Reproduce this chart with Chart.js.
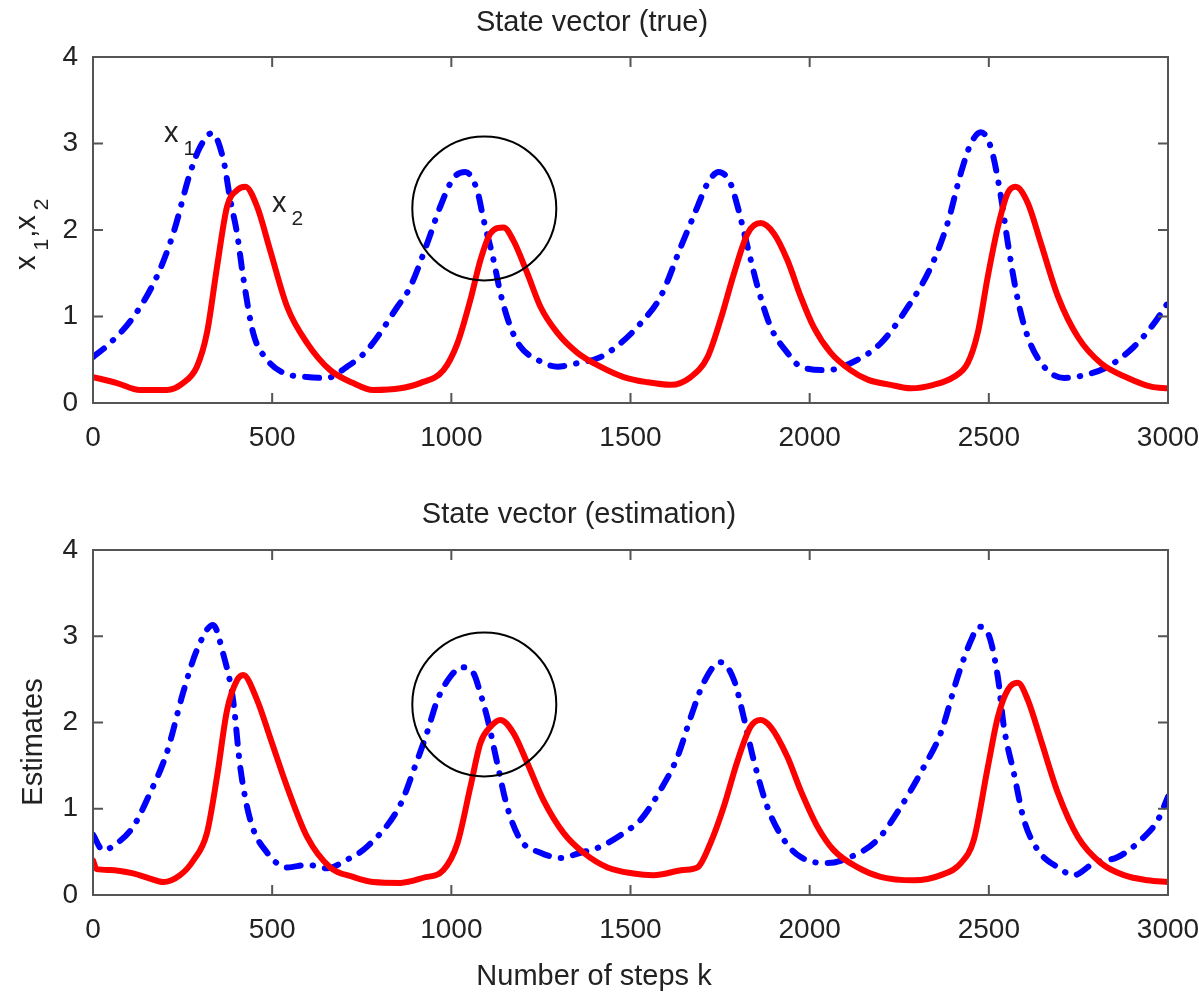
<!DOCTYPE html>
<html lang="en">
<head>
  <meta charset="UTF-8" />
  <title>State vector</title>
  <script src="https://cdn.jsdelivr.net/npm/chart.js"></script>
  <style>
    body { margin: 0; background: #fff; }
    #wrap { position: relative; width: 1199px; height: 994px; }
    canvas { position: absolute; left: 0; }
  </style>
</head>
<body>
<div id="wrap">
  <canvas id="top" width="1199" height="470" style="top:0"></canvas>
  <canvas id="bottom" width="1199" height="524" style="top:470px"></canvas>
</div>
<script>
// x ticks / y ticks
const xTicks = [0, 500, 1000, 1500, 2000, 2500, 3000];
const yTicks = [0, 1, 2, 3, 4];

// top panel: true states
const trueX1Steps = [0,47,112,178,224,271,299,332,364,383,402,419,447,486,531,597,653,709,765,849,885,933,969,1006,1039,1072,1090,1118,1137,1165,1193,1240,1296,1352,1416,1472,1528,1584,1640,1687,1715,1746,1779,1799,1827,1855,1891,1938,1975,2050,2114,2198,2274,2338,2385,2422,2450,2478,2506,2534,2553,2581,2609,2654,2710,2765,2832,2905,2961,3000];
const trueX1 = [0.53,0.69,0.99,1.46,1.96,2.66,2.96,3.12,2.81,2.35,1.96,1.46,0.81,0.50,0.35,0.30,0.29,0.42,0.61,1.11,1.34,1.85,2.27,2.60,2.67,2.46,2.12,1.65,1.27,0.88,0.65,0.50,0.42,0.46,0.53,0.69,0.92,1.23,1.80,2.27,2.54,2.67,2.54,2.27,1.80,1.34,0.88,0.58,0.42,0.38,0.46,0.69,1.11,1.57,2.08,2.66,3.00,3.13,2.95,2.38,1.85,1.19,0.76,0.42,0.29,0.32,0.42,0.65,0.92,1.16];

const trueX2Steps = [0,67,131,206,251,290,318,346,374,402,425,458,494,542,598,662,726,782,858,913,978,1017,1053,1081,1109,1146,1173,1212,1249,1296,1352,1416,1481,1547,1612,1668,1715,1751,1789,1827,1863,1900,1938,1975,2011,2059,2114,2162,2226,2282,2346,2402,2441,2469,2497,2525,2553,2575,2609,2645,2693,2749,2813,2888,2953,3000];
const trueX2 = [0.30,0.23,0.15,0.15,0.23,0.42,0.81,1.57,2.27,2.46,2.50,2.27,1.77,1.11,0.69,0.38,0.23,0.15,0.17,0.23,0.38,0.69,1.19,1.65,1.96,2.03,1.88,1.50,1.11,0.81,0.58,0.42,0.30,0.24,0.21,0.30,0.53,0.96,1.50,1.96,2.08,1.96,1.65,1.23,0.88,0.58,0.38,0.27,0.21,0.17,0.21,0.30,0.46,0.81,1.46,2.03,2.43,2.50,2.31,1.85,1.23,0.76,0.46,0.29,0.19,0.17];

// bottom panel: estimates
const estX1Steps = [0,28,67,112,159,206,251,290,335,363,391,411,439,486,542,598,653,709,765,858,895,932,961,997,1030,1062,1081,1100,1128,1156,1193,1249,1305,1360,1416,1492,1528,1584,1631,1668,1704,1751,1789,1816,1844,1882,1928,1975,2050,2114,2189,2254,2318,2366,2413,2450,2472,2497,2525,2542,2570,2598,2637,2693,2737,2793,2860,2925,2972,3000];
const estX1 = [0.70,0.52,0.60,0.79,1.18,1.65,2.34,2.84,3.13,2.80,2.26,1.48,0.87,0.49,0.32,0.35,0.31,0.41,0.56,1.05,1.45,1.88,2.26,2.53,2.64,2.57,2.34,2.06,1.53,1.02,0.64,0.49,0.43,0.49,0.56,0.75,0.87,1.22,1.60,2.06,2.46,2.70,2.49,2.06,1.56,1.02,0.64,0.44,0.37,0.44,0.64,1.02,1.48,1.88,2.53,2.95,3.11,3.04,2.53,1.95,1.41,0.87,0.52,0.32,0.23,0.37,0.44,0.64,0.87,1.14];

const estX2Steps = [0,10,47,112,159,196,243,280,318,346,374,402,419,458,494,542,598,662,726,782,858,922,978,1017,1053,1081,1109,1137,1173,1212,1257,1313,1369,1436,1508,1564,1648,1687,1723,1760,1799,1835,1863,1891,1938,1975,2022,2067,2134,2198,2291,2366,2422,2458,2497,2525,2553,2581,2609,2645,2693,2749,2813,2877,2944,3000];
const estX2 = [0.40,0.30,0.29,0.25,0.19,0.15,0.23,0.40,0.72,1.37,2.14,2.49,2.55,2.26,1.83,1.25,0.67,0.32,0.21,0.15,0.14,0.20,0.29,0.60,1.25,1.76,1.95,2.03,1.88,1.53,1.10,0.72,0.49,0.32,0.25,0.23,0.29,0.32,0.60,1.02,1.56,1.95,2.03,1.95,1.60,1.21,0.79,0.52,0.32,0.21,0.17,0.23,0.37,0.64,1.48,2.06,2.38,2.46,2.26,1.80,1.18,0.67,0.37,0.23,0.17,0.15];

const FONT = "'Liberation Sans', Arial, sans-serif";

function pts(xs, ys) {
  return xs.map((x, i) => ({ x: x, y: ys[i] }));
}

// frame with inward ticks, circle mark, titles
function panelPlugin(cfg) {
  return {
    id: 'panel',
    afterDraw(chart) {
      const ctx = chart.ctx;
      const a = chart.chartArea;
      const sx = chart.scales.x, sy = chart.scales.y;
      ctx.save();
      ctx.strokeStyle = '#555';
      ctx.lineWidth = 2;
      ctx.strokeRect(a.left, a.top, a.right - a.left, a.bottom - a.top);
      ctx.beginPath();
      xTicks.slice(1, -1).forEach(v => {
        const px = sx.getPixelForValue(v);
        ctx.moveTo(px, a.bottom); ctx.lineTo(px, a.bottom - 10);
        ctx.moveTo(px, a.top); ctx.lineTo(px, a.top + 10);
      });
      yTicks.slice(1, -1).forEach(v => {
        const py = sy.getPixelForValue(v);
        ctx.moveTo(a.left, py); ctx.lineTo(a.left + 10, py);
        ctx.moveTo(a.right, py); ctx.lineTo(a.right - 10, py);
      });
      ctx.stroke();

      // circle
      ctx.strokeStyle = '#000';
      ctx.lineWidth = 2;
      ctx.beginPath();
      ctx.arc(sx.getPixelForValue(cfg.circle[0]), sy.getPixelForValue(cfg.circle[1]), 72, 0, Math.PI * 2);
      ctx.stroke();

      // title
      ctx.fillStyle = '#222';
      ctx.textAlign = 'center';
      ctx.textBaseline = 'alphabetic';
      ctx.font = '29px ' + FONT;
      ctx.fillText(cfg.title, cfg.titleX, cfg.titleY);
      if (cfg.xlabel) ctx.fillText(cfg.xlabel, 594, cfg.xlabelY);

      cfg.extra(ctx);
      ctx.restore();
    }
  };
}

// x with subscript
function subText(ctx, x, y, base, sub) {
  ctx.textAlign = 'left';
  ctx.font = '29px ' + FONT;
  ctx.fillText(base, x, y);
  const w = ctx.measureText(base).width;
  ctx.font = '21px ' + FONT;
  ctx.fillText(sub, x + w + 5, y + 13);
  return w + 5 + ctx.measureText(sub).width;
}

function makeChart(id, x1s, x1, x2s, x2, padTop, axisH, cfg) {
  return new Chart(document.getElementById(id), {
    type: 'line',
    data: {
      datasets: [
        {
          data: pts(x2s, x2),
          borderColor: '#ff0000',
          borderWidth: 6,
          pointRadius: 0,
          cubicInterpolationMode: 'monotone',
          borderCapStyle: 'round',
          borderJoinStyle: 'round',
          order: 0
        },
        {
          data: pts(x1s, x1),
          borderColor: '#0000ff',
          borderWidth: 6,
          pointRadius: 0,
          cubicInterpolationMode: 'monotone',
          borderDash: [14, 12, 0.5, 12],
          borderCapStyle: 'round',
          borderJoinStyle: 'round',
          order: 1
        }
      ]
    },
    options: {
      responsive: false,
      animation: false,
      events: [],
      layout: { padding: { top: padTop, right: 31, left: 0, bottom: 0 } },
      plugins: { legend: { display: false }, tooltip: { enabled: false }, title: { display: false } },
      scales: {
        x: {
          type: 'linear', min: 0, max: 3000,
          afterFit: s => { s.height = axisH; s.paddingRight = 0; s.paddingLeft = 0; },
          afterBuildTicks: s => { s.ticks = xTicks.map(v => ({ value: v })); },
          ticks: { font: { size: 28, family: FONT }, color: '#222', padding: 18, maxRotation: 0, autoSkip: false, callback: v => String(v) },
          grid: { display: false, drawTicks: false },
          border: { display: false }
        },
        y: {
          min: 0, max: 4,
          afterFit: s => { s.width = 93; s.paddingTop = 0; s.paddingBottom = 0; },
          afterBuildTicks: s => { s.ticks = yTicks.map(v => ({ value: v })); },
          ticks: { font: { size: 28, family: FONT }, color: '#222', padding: 15, callback: v => String(v) },
          grid: { display: false, drawTicks: false },
          border: { display: false }
        }
      }
    },
    plugins: [panelPlugin(cfg)]
  });
}

makeChart('top', trueX1Steps, trueX1, trueX2Steps, trueX2, 57, 67, {
  title: 'State vector (true)', titleX: 592, titleY: 31,
  circle: [1092, 2.25],
  extra(ctx) {
    ctx.fillStyle = '#222';
    subText(ctx, 164, 142, 'x', '1');
    subText(ctx, 272, 212, 'x', '2');
    // y label x1,x2
    ctx.save();
    ctx.translate(35, 270);
    ctx.rotate(-Math.PI / 2);
    let off = subText(ctx, 0, 0, 'x', '1');
    ctx.font = '29px ' + FONT;
    ctx.fillText(',', off + 1, 0);
    off += 1 + ctx.measureText(',').width;
    subText(ctx, off, 0, 'x', '2');
    ctx.restore();
  }
});

makeChart('bottom', estX1Steps, estX1, estX2Steps, estX2, 80, 99, {
  title: 'State vector (estimation)', titleX: 579, titleY: 53,
  xlabel: 'Number of steps k', xlabelY: 515,
  circle: [1092, 2.21],
  extra(ctx) {
    ctx.save();
    ctx.fillStyle = '#222';
    ctx.translate(42, 272);
    ctx.rotate(-Math.PI / 2);
    ctx.textAlign = 'center';
    ctx.font = '29px ' + FONT;
    ctx.fillText('Estimates', 0, 0);
    ctx.restore();
  }
});
</script>
</body>
</html>
